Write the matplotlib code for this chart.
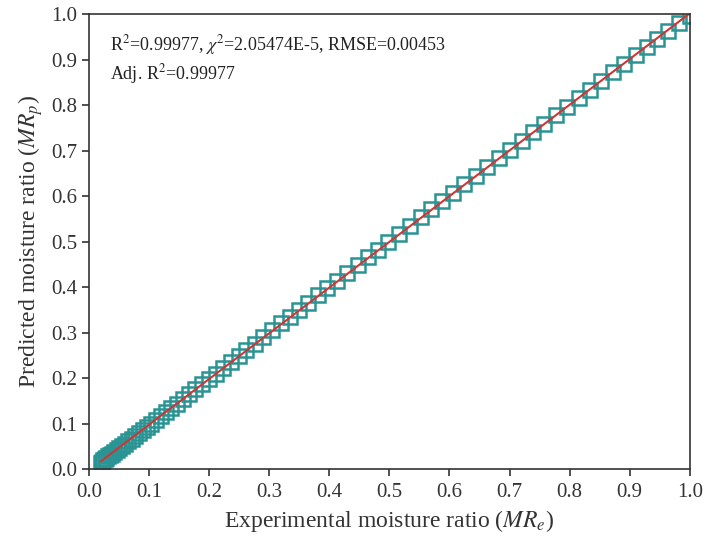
import matplotlib
matplotlib.use("Agg")

import matplotlib.pyplot as plt
import numpy as np

plt.rcParams["font.family"] = ["Liberation Serif", "DejaVu Serif"]
plt.rcParams["mathtext.fontset"] = "stix"

# experimental vs predicted moisture ratio
mr_exp = [
    1.000, 0.982, 0.964, 0.946, 0.928, 0.910, 0.891, 0.872, 0.853, 0.834,
    0.815, 0.796, 0.777, 0.758, 0.739, 0.720, 0.701, 0.682, 0.663, 0.644,
    0.625, 0.606, 0.588, 0.570, 0.552, 0.534, 0.516, 0.498, 0.481, 0.464,
    0.447, 0.430, 0.413, 0.397, 0.381, 0.365, 0.349, 0.334, 0.319, 0.304,
    0.290, 0.276, 0.262, 0.249, 0.236, 0.223, 0.211, 0.199, 0.188, 0.177,
    0.166, 0.156, 0.146, 0.137, 0.128, 0.120, 0.112, 0.104, 0.097, 0.090,
    0.083, 0.077, 0.071, 0.065, 0.060, 0.055, 0.050, 0.046, 0.042, 0.038,
    0.035, 0.032, 0.029, 0.026, 0.024, 0.022, 0.020,
]
mr_pred = [
    0.996, 0.980, 0.962, 0.944, 0.927, 0.909, 0.890, 0.872, 0.853, 0.834,
    0.815, 0.796, 0.778, 0.759, 0.740, 0.721, 0.702, 0.683, 0.664, 0.645,
    0.626, 0.607, 0.589, 0.571, 0.553, 0.535, 0.517, 0.499, 0.482, 0.465,
    0.448, 0.431, 0.414, 0.398, 0.382, 0.366, 0.350, 0.335, 0.320, 0.305,
    0.290, 0.276, 0.262, 0.249, 0.236, 0.223, 0.210, 0.198, 0.187, 0.176,
    0.165, 0.154, 0.144, 0.134, 0.125, 0.117, 0.108, 0.100, 0.093, 0.086,
    0.079, 0.073, 0.067, 0.061, 0.056, 0.051, 0.046, 0.042, 0.038, 0.034,
    0.031, 0.028, 0.025, 0.022, 0.019, 0.016, 0.013,
]

x = np.array(mr_exp)
y = np.array(mr_pred)

fig = plt.figure(figsize=(7.06, 5.38), dpi=100)
ax = fig.add_axes([0.126, 0.128, 0.851, 0.846])

ax.plot(x, y, linestyle="none", marker="s", markersize=9.5,
        markerfacecolor="none", markeredgecolor="#2a9494", markeredgewidth=1.8)

# linear fit line
k, b = np.polyfit(x, y, 1)
xs = np.array([x.min(), x.max()])
ax.plot(xs, k * xs + b, color="#d03535", linewidth=1.5)

ax.set_xlim(0, 1)
ax.set_ylim(0, 1)
ax.set_xticks(np.arange(0, 1.01, 0.1))
ax.set_yticks(np.arange(0, 1.01, 0.1))
ax.xaxis.set_major_formatter(plt.FormatStrFormatter("%.1f"))
ax.yaxis.set_major_formatter(plt.FormatStrFormatter("%.1f"))
ax.tick_params(direction="out", length=5, width=1.2, labelsize=15, colors="#333333")
ax.tick_params(axis="x", pad=5)
for s in ax.spines.values():
    s.set_linewidth(1.2)
    s.set_color("#333333")

ax.set_xlabel("Experimental moisture ratio ($MR_e$)", fontsize=17, color="#333333", labelpad=4)
ax.set_ylabel("Predicted moisture ratio ($MR_p$)", fontsize=17, color="#333333", labelpad=4)

ax.text(0.035, 0.92, r"R$^2$=0.99977, $\chi^2$=2.05474E-5, RMSE=0.00453",
        fontsize=13, va="baseline", color="#222222")
ax.text(0.035, 0.856, r"Adj. R$^2$=0.99977",
        fontsize=13, va="baseline", color="#222222")

plt.savefig("out.png", dpi=100)
plt.close()
